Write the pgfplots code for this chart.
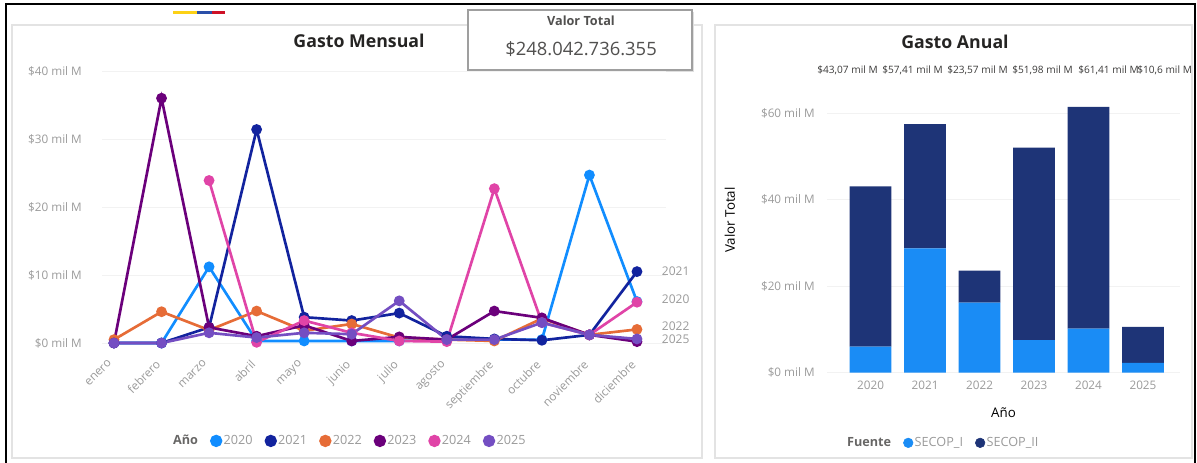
\documentclass[border=0pt]{standalone}
\usepackage{pgfplots}
\pgfplotsset{compat=1.18}
\usepackage{fontspec}
\setmainfont{Open Sans}

\definecolor{c20}{HTML}{118DFF}
\definecolor{c21}{HTML}{12239E}
\definecolor{c22}{HTML}{E66C37}
\definecolor{c23}{HTML}{6B007B}
\definecolor{c24}{HTML}{E044A7}
\definecolor{c25}{HTML}{744EC2}
\definecolor{secI}{HTML}{1A8CF5}
\definecolor{secII}{HTML}{1E3477}
\definecolor{tickc}{HTML}{9A9A9A}
\definecolor{ttl}{HTML}{252423}
\definecolor{panel}{HTML}{E3E3E3}
\definecolor{flagY}{HTML}{FCD116}
\definecolor{flagB}{HTML}{2A4FA8}
\definecolor{flagR}{HTML}{CE1126}

\pgfplotsset{
  pbi/.style={
    scale only axis, clip=false,
    axis line style={draw=none}, tick style={draw=none},
    ymajorgrids, grid style={gray!10, line width=0.6pt},
    tick label style={font=\fontsize{8.8}{10}\selectfont, text=tickc},
    legend columns=-1,
    legend style={draw=none, fill=none, font=\fontsize{9.5}{11}\selectfont\color{tickc},
      /tikz/every even column/.append style={column sep=7pt},
      /tikz/every odd column/.append style={column sep=-1pt}},
  },
  dot/.style={legend image code/.code={\fill[#1] (0.12cm,0cm) circle (3.6pt);}},
}

\begin{document}
\begin{tikzpicture}
\begin{scope}[x=0.75pt,y=-0.75pt]
\path[use as bounding box] (0,0) rectangle (1197,462);
% panels and frame
\draw[panel, line width=0.8pt] (12,25) rectangle (702,458);
\draw[panel, line width=0.8pt] (715,25) rectangle (1192,458);
\draw[black, line width=1.8pt] (6,463) -- (6,4) -- (1195,4) -- (1195,463);
% flag strip
\draw[flagY, line width=2.4pt] (173,12.5) -- (197,12.5);
\draw[flagB, line width=2.4pt] (197,12.5) -- (212,12.5);
\draw[flagR, line width=2.4pt] (212,12.5) -- (225,12.5);
% card
\fill[gray!25] (470,12) rectangle (694,72);
\draw[fill=white, draw=gray!75, line width=0.9pt] (468,10) rectangle (692,70);
\node[font=\bfseries\fontsize{9.5}{11}\selectfont, text=ttl!80] at (581,21) {Valor Total};
\node[font=\fontsize{13.8}{16}\selectfont, text=ttl!80] at (581,49) {\$248.042.736.355};
% titles
\node[font=\bfseries\fontsize{13.3}{15}\selectfont, text=ttl] at (359,41) {Gasto Mensual};
\node[font=\bfseries\fontsize{13.3}{15}\selectfont, text=ttl] at (955,42) {Gasto Anual};
% total labels row
\begin{scope}[every node/.style={anchor=west, inner sep=0pt, font=\fontsize{7.6}{8}\selectfont, text=ttl!90}]
\node at (817,70) {\$43,07 mil M};
\node at (882,70) {\$57,41 mil M};
\node at (947,70) {\$23,57 mil M};
\node at (1012,70) {\$51,98 mil M};
\node at (1078,70) {\$61,41 mil M};
\node at (1137,70) {\$10,6 mil M};
\end{scope}
\coordinate (L0) at (102.1,343);
\coordinate (R0) at (827,372.7);
\end{scope}

% ---------- Gasto Mensual ----------
\begin{axis}[pbi, dot,
  at={(L0)}, anchor=south west,
  width=422.55pt, height=204pt,
  xmin=-0.25, xmax=11.6, ymin=0, ymax=40,
  xtick={0,...,11},
  xticklabels={enero,febrero,marzo,abril,mayo,junio,julio,agosto,septiembre,octubre,noviembre,diciembre},
  xticklabel style={inner sep=0pt, xshift=-5pt, yshift=-12pt, rotate=45, anchor=north east},
  ytick={0,10,20,30,40},
  yticklabels={\$0 mil M,\$10 mil M,\$20 mil M,\$30 mil M,\$40 mil M},
  yticklabel style={inner sep=0pt, xshift=-15pt},
  legend style={at={(0.44,-0.36)}, anchor=center},
  every axis plot/.append style={line width=2pt, mark=*, mark size=3pt},
]
\addlegendimage{empty legend}\addlegendentry{\textbf{\color{ttl!70}Año}}
\addplot[c20] coordinates {(0,0) (1,0) (2,11.2) (3,0.3) (4,0.3) (5,0.3) (6,0.3) (7,0.5) (8,0.5) (9,0.5) (10,24.7) (11,6.1)};
\addlegendentry{2020}
\addplot[c21] coordinates {(0,0) (1,0) (2,2.3) (3,31.4) (4,3.8) (5,3.3) (6,4.4) (7,1.0) (8,0.6) (9,0.4) (10,1.2) (11,10.5)};
\addlegendentry{2021}
\addplot[c22] coordinates {(0,0.5) (1,4.6) (2,1.9) (3,4.7) (4,1.8) (5,2.8) (6,0.8) (7,0.5) (8,0.3) (9,3.6) (10,1.2) (11,2.0)};
\addlegendentry{2022}
\addplot[c23] coordinates {(0,0) (1,36.0) (2,2.3) (3,1.0) (4,2.6) (5,0.3) (6,0.9) (7,0.5) (8,4.7) (9,3.7) (10,1.2) (11,0.2)};
\addlegendentry{2023}
\addplot[c24] coordinates {(2,23.9) (3,0.1) (4,3.3) (5,1.5) (6,0.3) (7,0.2) (8,22.7) (9,3.0) (10,1.2) (11,6.0)};
\addlegendentry{2024}
\addplot[c25] coordinates {(0,0) (1,0) (2,1.5) (3,0.8) (4,1.5) (5,1.3) (6,6.2) (7,0.5) (8,0.5) (9,3.0) (10,1.2) (11,0.6)};
\addlegendentry{2025}
\begin{scope}[every node/.style={anchor=west, inner sep=0pt, font=\fontsize{9}{10}\selectfont, text=tickc, xshift=18.5pt}]
\node at (axis cs:11,10.6) {2021};
\node at (axis cs:11,6.5) {2020};
\node at (axis cs:11,2.5) {2022};
\node at (axis cs:11,0.6) {2025};
\end{scope}
\end{axis}

% ---------- Gasto Anual ----------
\begin{axis}[pbi,
  at={(R0)}, anchor=south west,
  width=264.75pt, height=194.8pt,
  xmin=-0.8, xmax=5.68, ymin=0, ymax=60,
  ybar stacked, bar width=31.3pt,
  xtick={0,...,5}, xticklabels={2020,2021,2022,2023,2024,2025},
  xticklabel style={inner sep=0pt, yshift=-6pt},
  ytick={0,20,40,60},
  yticklabels={\$0 mil M,\$20 mil M,\$40 mil M,\$60 mil M},
  yticklabel style={inner sep=0pt, xshift=-9pt},
  xlabel={Año}, ylabel={Valor Total},
  label style={font=\fontsize{12}{14}\selectfont, text=gray!90},
  every axis x label/.style={at={(axis description cs:0.5,-0.155)}, anchor=center},
  every axis y label/.style={at={(axis description cs:-0.275,0.588)}, anchor=center, rotate=90},
  legend style={at={(0.33,-0.27)}, anchor=center},
]
\addlegendimage{empty legend}\addlegendentry{\textbf{\color{ttl!70}Fuente}}
\addlegendimage{dot, secI}\addlegendentry{SECOP\_I}
\addlegendimage{dot, secII}\addlegendentry{SECOP\_II}
\addplot[forget plot, fill=secI, draw=none] coordinates {(0,6.0) (1,28.7) (2,16.2) (3,7.5) (4,10.2) (5,2.3)};
\addplot[forget plot, fill=secII, draw=none] coordinates {(0,37.07) (1,28.71) (2,7.37) (3,44.48) (4,51.21) (5,8.3)};
\end{axis}
\end{tikzpicture}
\end{document}
